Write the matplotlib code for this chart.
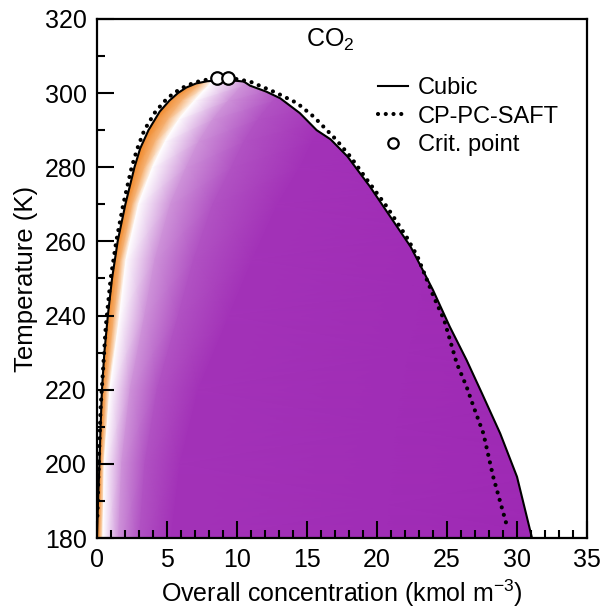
import numpy as np
import matplotlib
matplotlib.use("Agg")
import matplotlib.pyplot as plt
from matplotlib.colors import LinearSegmentedColormap
from matplotlib.patches import Polygon
from matplotlib.lines import Line2D

plt.rcParams['font.family'] = ['Liberation Sans', 'DejaVu Sans']
plt.rcParams['font.size'] = 17

# Cubic EoS envelope (left branch, then right branch)
cubic_left_x = [0.02, 0.1, 0.2, 0.28, 0.38, 0.55, 0.8, 1.1, 1.5, 2.05, 2.7, 3.1, 3.7, 4.5, 5.2, 5.8, 6.4, 7.1, 7.9, 8.8, 10.0, 10.5]
cubic_left_T = [180, 190, 200, 210, 220, 230, 240, 250, 260, 270, 280, 285, 290, 295, 298, 300, 301.5, 302.6, 303.2, 303.4, 303.3, 303.1]
cubic_right_x = [10.95, 12.1, 13.1, 14.5, 15.7, 16.7, 17.9, 19.5, 20.95, 22.4, 22.9, 24.0, 25.2, 26.4, 27.5, 28.8, 30.0, 31.07]
cubic_right_T = [302.0, 300.4, 298.6, 294.6, 290.0, 287.5, 282.9, 274.8, 266.7, 258.6, 255.0, 246.9, 237.0, 228.0, 219.0, 208.2, 196.5, 180.0]

# CP-PC-SAFT envelope
saft_x = [0.05, 0.15, 0.28, 0.45, 0.65, 1.0, 1.4, 1.9, 2.5, 2.9, 3.4, 4.2, 4.9, 5.5, 6.4, 7.4, 8.5, 9.5, 10.95, 12.86, 14.3, 15.5,
          17.1, 18.1, 19.3, 20.7, 22.1, 22.9, 24.05, 24.8, 25.7, 26.4, 26.9, 27.6, 28.3, 29.3]
saft_T = [186, 200, 215, 225, 237, 250, 260, 270, 280, 285, 290, 295, 298, 300, 302, 303.3, 304.0, 304.1, 303.1, 300, 297.3, 293.6,
          287.4, 282.9, 276.6, 269.4, 261.3, 255.9, 245.1, 238.8, 227.1, 220.8, 215.4, 208.2, 196.5, 183.0]

# Critical points
crit_x = [8.57, 9.40]
crit_T = [304.0, 304.0]

# Colour field: per temperature row, the concentrations of the colour stops
field_T = [178, 200, 220, 240, 255, 270, 280, 287, 293, 298, 302, 306]
stop_boundary = [0.0, 0.2, 0.38, 0.8, 1.25, 2.05, 2.7, 3.3, 4.1, 5.0, 6.4, 7.6]        # strong orange
stop_orange = [0.25, 0.39, 0.69, 1.27, 1.72, 2.57, 3.42, 4.18, 5.09, 6.1, 7.28, 8.26]    # mid orange
stop_white = [0.45, 0.55, 0.95, 1.65, 2.1, 3.0, 4.0, 4.9, 5.9, 7.0, 8.0, 8.8]           # white
stop_half = [1.55, 1.79, 2.40, 3.44, 4.17, 5.28, 6.42, 7.32, 8.32, 9.42, 10.42, 11.22]   # half purple
stop_80 = [3.03, 3.45, 4.33, 5.84, 6.93, 8.31, 9.64, 10.54, 11.54, 12.64, 13.64, 14.44]  # 80 % purple
stop_95 = [5.25, 5.95, 7.25, 9.45, 11.1, 12.9, 14.5, 15.4, 16.4, 17.5, 18.5, 19.3]       # near full purple
stop_values = [-1.0, -0.95, -0.6, 0.0, 0.5, 0.8, 0.95, 1.0]

cmap = LinearSegmentedColormap.from_list('op', [(0, '#F0821E'), (0.5, '#FFFFFF'), (1, '#9E28B4')])

fig = plt.figure(figsize=(6.04, 6.10), dpi=100)
ax = fig.add_axes([0.160, 0.118, 0.812, 0.851])

nrow = len(field_T)
Xg = np.column_stack([np.full(nrow, -1.0), stop_boundary, stop_orange, stop_white, stop_half, stop_80, stop_95,
                      np.full(nrow, 36.0)])
Yg = np.repeat(np.array(field_T, dtype=float)[:, None], Xg.shape[1], axis=1)
Cg = np.repeat(np.array(stop_values)[None, :], nrow, axis=0)
mesh = ax.pcolormesh(Xg, Yg, Cg, cmap=cmap, vmin=-1, vmax=1, shading='gouraud', zorder=1)
env_x = cubic_left_x + cubic_right_x
env_T = cubic_left_T + cubic_right_T
poly = Polygon(np.column_stack([env_x, env_T]), closed=True, facecolor='none', edgecolor='none')
ax.add_patch(poly)
mesh.set_clip_path(poly)

ax.plot(env_x, env_T, color='black', lw=1.5, zorder=3)
ax.plot(saft_x, saft_T, color='black', lw=3.0, linestyle=(0, (0.01, 1.85)), dash_capstyle='round', zorder=3)
ax.plot(crit_x, crit_T, linestyle='none', marker='o', markersize=9, markerfacecolor='white',
        markeredgecolor='black', markeredgewidth=1.6, zorder=4)

ax.set_xlim(0, 35)
ax.set_ylim(180, 320)
ax.set_xticks([0, 5, 10, 15, 20, 25, 30, 35])
ax.set_xticks(np.arange(0, 36, 1), minor=True)
ax.set_yticks([180, 200, 220, 240, 260, 280, 300, 320])
ax.set_yticks(np.arange(180, 321, 10), minor=True)
ax.tick_params(which='both', direction='in', top=False, right=False, width=1.5, pad=7, labelsize=18)
ax.tick_params(which='major', length=12)
ax.tick_params(which='minor', length=6)
for s in ax.spines.values():
    s.set_linewidth(1.6)

ax.set_xlabel('Overall concentration (kmol m$^{\\mathregular{-3}}$)', fontsize=18, labelpad=4)
ax.set_ylabel('Temperature (K)', fontsize=18.5, labelpad=5)
ax.text(16.7, 314.3, 'CO$_{\\mathregular{2}}$', ha='center', va='center', fontsize=18)

handles = [Line2D([], [], color='black', lw=1.5),
           Line2D([], [], color='black', lw=3.0, linestyle=(0, (0.01, 1.85)), dash_capstyle='round'),
           Line2D([], [], linestyle='none', marker='o', markersize=7.5, markerfacecolor='white',
                  markeredgecolor='black', markeredgewidth=1.6)]
ax.legend(handles, ['Cubic', 'CP-PC-SAFT', 'Crit. point'], loc='upper left',
          bbox_to_anchor=(378 / 604, 1 - 77 / 610), bbox_transform=fig.transFigure,
          frameon=False, borderpad=0, borderaxespad=0, handlelength=1.25, handletextpad=0.45,
          labelspacing=0.28, fontsize=17)

fig.savefig('out.png', dpi=100)
